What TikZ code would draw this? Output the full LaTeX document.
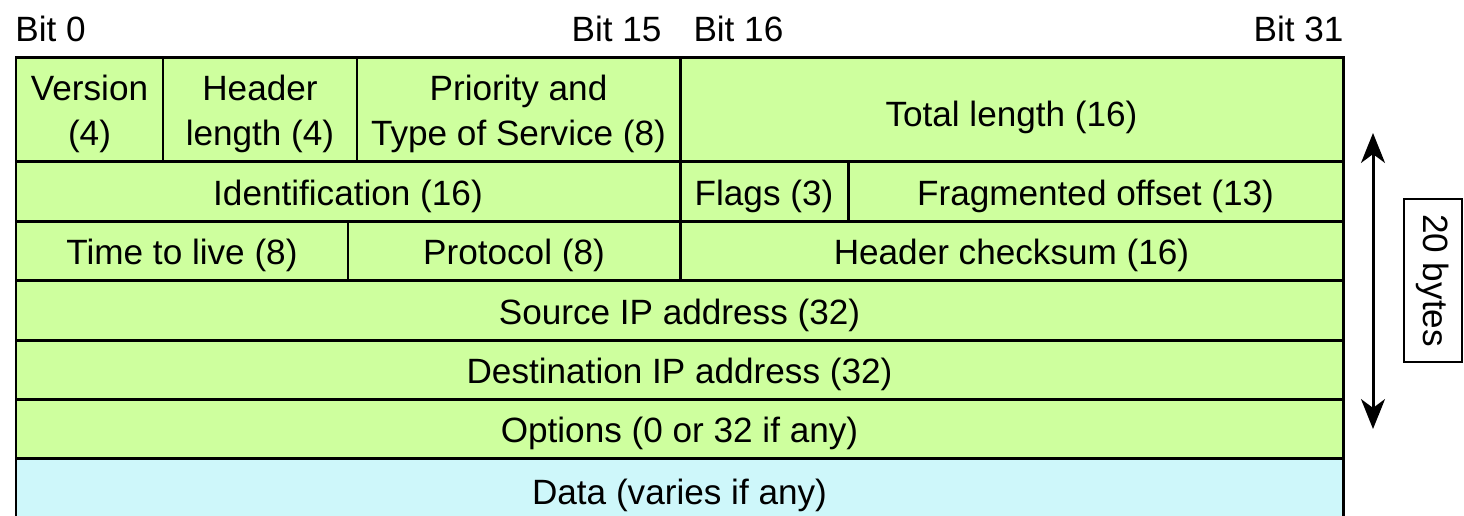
\documentclass[tikz,border=0pt]{standalone}
\usepackage{fontspec}
\setmainfont{Liberation Sans}
\usepackage{tikz}
\usetikzlibrary{fit,arrows.meta}
\definecolor{hdrgreen}{RGB}{206,255,158}
\definecolor{datablue}{RGB}{206,247,250}

\begin{document}
\begin{tikzpicture}[x=0.02cm, y=-0.02cm, line width=1.7pt,
  cell/.style={draw, fill=hdrgreen, inner sep=0pt},
  txt/.style={align=center, inner sep=0pt, yshift=-3pt, font=\fontsize{20}{25.5}\selectfont},
  bit/.style={inner sep=0pt, font=\fontsize{20}{24}\selectfont}]
\useasboundingbox (0,0) rectangle (1464,515);
\clip (0,0) rectangle (1464,515);
\node[bit, anchor=base west] (b0) at (14,41) {Bit 0};
\node[bit, anchor=base east] (b15) at (663,41) {Bit 15};
\node[bit, anchor=base west] (b16) at (692,41) {Bit 16};
\node[bit, anchor=base east] (b31) at (1345,41) {Bit 31};
\node[cell, fit={(16,57) (163,161)}, label={[txt]center:Version\\(4)}] (ver) {};
\node[cell, fit={(163,57) (357,161)}, label={[txt]center:Header\\length (4)}] (hlen) {};
\node[cell, fit={(357,57) (680,161)}, label={[txt]center:Priority and\\Type of Service (8)}] (tos) {};
\node[cell, fit={(680,57) (1343,161)}, label={[txt, yshift=-2pt]center:Total length (16)}] (tlen) {};
\node[cell, fit={(16,161) (680,221)}, label={[txt]center:Identification (16)}] (ident) {};
\node[cell, fit={(680,161) (848,221)}, label={[txt]center:Flags (3)}] (flags) {};
\node[cell, fit={(848,161) (1343,221)}, label={[txt]center:Fragmented offset (13)}] (frag) {};
\node[cell, fit={(16,221) (348,280)}, label={[txt]center:Time to live (8)}] (ttl) {};
\node[cell, fit={(348,221) (680,280)}, label={[txt]center:Protocol (8)}] (proto) {};
\node[cell, fit={(680,221) (1343,280)}, label={[txt]center:Header checksum (16)}] (csum) {};
\node[cell, fit={(16,280) (1343,340)}, label={[txt]center:Source IP address (32)}] (src) {};
\node[cell, fit={(16,340) (1343,399)}, label={[txt]center:Destination IP address (32)}] (dst) {};
\node[cell, fit={(16,399) (1343,458)}, label={[txt]center:Options (0 or 32 if any)}] (opts) {};
\node[cell, fill=datablue, fit={(16,458) (1343,522)}, label={[txt]center:Data (varies if any)}] (data) {};
\coordinate (atop) at (1373,133);
\coordinate (abot) at (1373,429);
\draw[{Stealth[length=17pt, width=13.6pt, inset=5pt]}-{Stealth[length=17pt, width=13.6pt, inset=5pt]}] (atop) -- (abot);
\node[draw, line width=0.85pt, rotate=-90, minimum width=3.26cm, minimum height=1.16cm, inner sep=0pt,
  font=\fontsize{20}{24}\selectfont] (len) at (1433,280.5) {20 bytes};
\end{tikzpicture}
\end{document}
